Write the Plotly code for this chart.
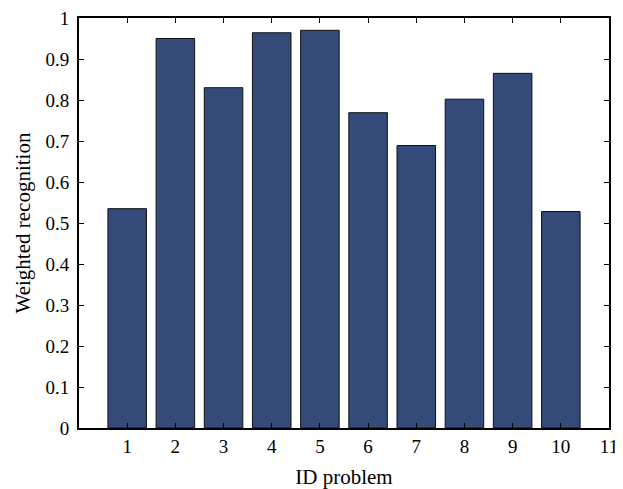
import plotly.graph_objects as go

problem_ids = [1, 2, 3, 4, 5, 6, 7, 8, 9, 10]
weighted_recognition = [0.535, 0.950, 0.830, 0.964, 0.970, 0.769, 0.689, 0.802, 0.865, 0.528]
x_ticks = list(range(1, 12))
y_ticks = [0, 0.1, 0.2, 0.3, 0.4, 0.5, 0.6, 0.7, 0.8, 0.9, 1]
y_tick_labels = ["0", "0.1", "0.2", "0.3", "0.4", "0.5", "0.6", "0.7", "0.8", "0.9", "1"]

font_family = "Liberation Serif, Times New Roman, serif"

fig = go.Figure(
    go.Bar(
        x=problem_ids,
        y=weighted_recognition,
        width=0.8,
        marker=dict(color="#344a78", line=dict(color="#111111", width=1)),
    )
)

# page body has an 8px default margin; compensate so the plot area lands where it should
fig.update_layout(
    width=615,
    height=481,
    margin=dict(l=71, r=14, t=10, b=61),
    plot_bgcolor="white",
    paper_bgcolor="white",
    font=dict(family=font_family, size=19, color="black"),
    showlegend=False,
)

fig.update_xaxes(
    range=[0, 11],
    tickvals=x_ticks,
    ticktext=[str(t) for t in x_ticks],
    ticks="inside",
    ticklen=5,
    tickwidth=1,
    tickcolor="black",
    showline=True,
    linecolor="black",
    linewidth=1.7,
    mirror="ticks",
    showgrid=False,
    zeroline=False,
    automargin=False,
    title=dict(text="ID problem", standoff=18, font=dict(size=21)),
    tickfont=dict(size=19),
    ticklabelstandoff=0,
    ticklabeloverflow="allow",
)

fig.update_yaxes(
    range=[0, 1],
    tickvals=y_ticks,
    ticktext=y_tick_labels,
    ticks="inside",
    ticklen=5,
    tickwidth=1,
    tickcolor="black",
    showline=True,
    linecolor="black",
    linewidth=1.7,
    mirror="ticks",
    showgrid=False,
    zeroline=False,
    automargin=False,
    title=dict(text="Weighted recognition", standoff=9, font=dict(size=21)),
    tickfont=dict(size=19),
    ticklabelstandoff=4,
    ticklabeloverflow="allow",
)

fig.write_html("out.html")
